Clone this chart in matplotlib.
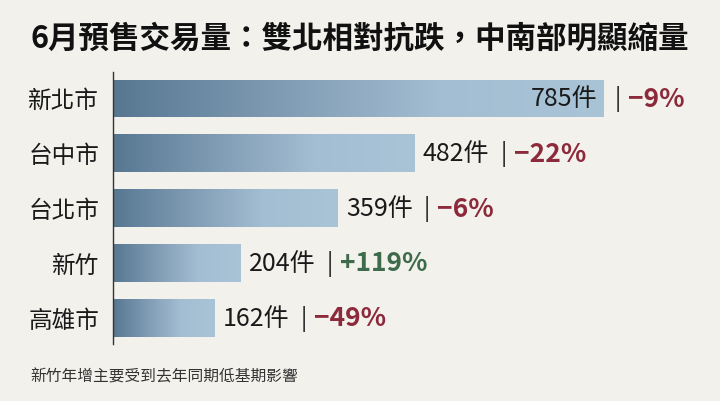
import matplotlib.pyplot as plt
import numpy as np
from matplotlib.colors import LinearSegmentedColormap

plt.rcParams['font.family'] = ['Noto Sans CJK TC', 'DejaVu Sans']

cities = ['新北市', '台中市', '台北市', '新竹', '高雄市']
counts = [785, 482, 359, 204, 162]
changes = ['−9%', '−22%', '−6%', '+119%', '−49%']

bg = '#f2f1ec'
red = '#8c2a3b'
green = '#3d6b4c'
cmap = LinearSegmentedColormap.from_list('bar', ['#577791', '#7f9bb3', '#a3bdd2', '#a9c3d7'])

fig = plt.figure(figsize=(7.2, 4.02), dpi=100, facecolor=bg)
ax = fig.add_axes([0.157, 0.142, 0.825, 0.676])
ax.set_facecolor(bg)

y = np.arange(len(cities))
bars = ax.barh(y, counts, height=0.69, color='#8ea9bf', edgecolor='none')

# градиент на каждом баре
grad = np.linspace(0, 1, 256).reshape(1, -1)
for b in bars:
    x0, y0 = b.get_x(), b.get_y()
    w, h = b.get_width(), b.get_height()
    im = ax.imshow(grad, cmap=cmap, aspect='auto', extent=(x0, x0 + w, y0 + h, y0),
                   zorder=2, interpolation='bicubic')
    im.set_clip_path(b)

ax.set_xlim(0, 950)
ax.set_ylim(4.48, -0.48)

for s in ['top', 'right', 'bottom']:
    ax.spines[s].set_visible(False)
ax.spines['left'].set_color('#333333')
ax.spines['left'].set_linewidth(1.0)
ax.set_xticks([])
ax.set_yticks(y)
ax.set_yticklabels(cities, fontsize=17, color='#1a1a1a')
ax.tick_params(axis='y', length=0, pad=10)

for i, (c, ch) in enumerate(zip(counts, changes)):
    col = green if ch.startswith('+') else red
    if i == 0:
        t1 = ax.annotate(f'{c}件', xy=(c, i), xytext=(-5, 0), textcoords='offset points',
                         ha='right', va='center', fontsize=18, color='#1a1a1a', zorder=3)
        sep = ax.annotate('|', xy=(c, i), xytext=(8, 0), textcoords='offset points',
                          ha='left', va='center', fontsize=17, color='#1a1a1a',
                          fontweight='light', zorder=3)
    else:
        t1 = ax.annotate(f'{c}件', xy=(c, i), xytext=(6, 0), textcoords='offset points',
                         ha='left', va='center', fontsize=18, color='#1a1a1a', zorder=3)
        sep = ax.annotate('|', xy=(1, 0.5), xycoords=t1, xytext=(8, 0),
                          textcoords='offset points', ha='left', va='center',
                          fontsize=17, color='#1a1a1a', fontweight='light', zorder=3)
    ax.annotate(ch, xy=(1, 0.5), xycoords=sep, xytext=(5, 0), textcoords='offset points',
                ha='left', va='center', fontsize=19, color=col, fontweight='bold', zorder=3)

fig.text(0.042, 0.905, '6月預售交易量：雙北相對抗跌，中南部明顯縮量', fontsize=22,
         fontweight='bold', color='#111111', va='center', ha='left')
fig.text(0.042, 0.062, '新竹年增主要受到去年同期低基期影響', fontsize=11.3,
         color='#333333', va='center', ha='left')

fig.savefig('out.png', dpi=100, facecolor=bg)
